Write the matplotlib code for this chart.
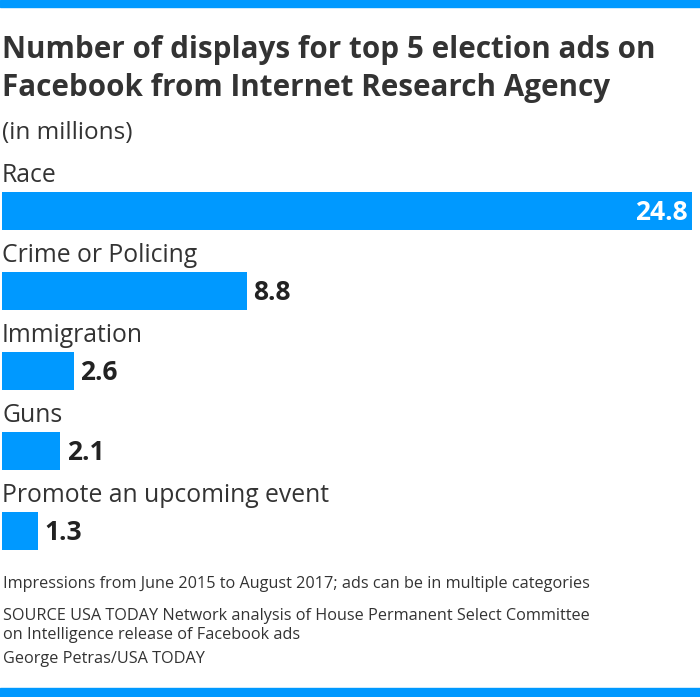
import matplotlib.pyplot as plt
from matplotlib.patches import Rectangle

categories = [
    "Race",
    "Crime or Policing",
    "Immigration",
    "Guns",
    "Promote an upcoming event",
]
values = [24.8, 8.8, 2.6, 2.1, 1.3]

title = "Number of displays for top 5 election ads on\nFacebook from Internet Research Agency"
subtitle = "(in millions)"
note = "Impressions from June 2015 to August 2017; ads can be in multiple categories"
source = ["SOURCE USA TODAY Network analysis of House Permanent Select Committee",
          "on Intelligence release of Facebook ads"]
credit = "George Petras/USA TODAY"

blue = "#0099ff"
dark = "#333333"
W, H = 700, 697

plt.rcParams["font.family"] = ["Open Sans", "DejaVu Sans"]

fig = plt.figure(figsize=(W / 100, H / 100), dpi=100)
ax = fig.add_axes([0, 0, 1, 1])

# scales: x value 0 sits at px 2, 24.8 at px 692; rows 80 px apart
px_per_unit = 690 / 24.8
ax.set_xlim(-2 / px_per_unit, (W - 2) / px_per_unit)
ax.set_ylim(4 + (H - 530.5) / 80, -210.5 / 80)
ax.axis("off")

ypos = list(range(len(categories)))
ax.barh(ypos, values, height=0.475, color=blue, edgecolor="none")

for y, cat, v in zip(ypos, categories, values):
    ax.text(0, y - 0.435, cat, fontsize=17.8, color=dark, va="center", ha="left")
    if v == max(values):
        ax.text(v - 0.17, y + 0.02, f"{v:.1f}", fontsize=19, fontweight="bold",
                color="white", va="center", ha="right")
    else:
        ax.text(v + 0.22, y + 0.02, f"{v:.1f}", fontsize=19, fontweight="bold",
                color="#222222", va="center", ha="left")

# top and bottom rules
fig.patches.append(Rectangle((0, 1 - 7 / H), 1, 7 / H, transform=fig.transFigure,
                             color=blue, zorder=0))
fig.patches.append(Rectangle((0, 0), 1, 9 / H, transform=fig.transFigure,
                             color=blue, zorder=0))

fig.text(2 / W, 1 - 50 / H, title.split("\n")[0], fontsize=21.3, fontweight="bold",
         color=dark, va="center", ha="left")
fig.text(2 / W, 1 - 88 / H, title.split("\n")[1], fontsize=21.3, fontweight="bold",
         color=dark, va="center", ha="left")
fig.text(2 / W, 1 - 133 / H, subtitle, fontsize=17.5, color=dark, va="center")
fig.text(3 / W, 1 - 584 / H, note, fontsize=11.7, color=dark, va="center")
fig.text(3 / W, 1 - 616 / H, source[0], fontsize=11.7, color=dark, va="center")
fig.text(3 / W, 1 - 635 / H, source[1], fontsize=11.7, color=dark, va="center")
fig.text(3 / W, 1 - 659 / H, credit, fontsize=11.7, color=dark, va="center")

fig.savefig("out.png", dpi=100, facecolor="white")
